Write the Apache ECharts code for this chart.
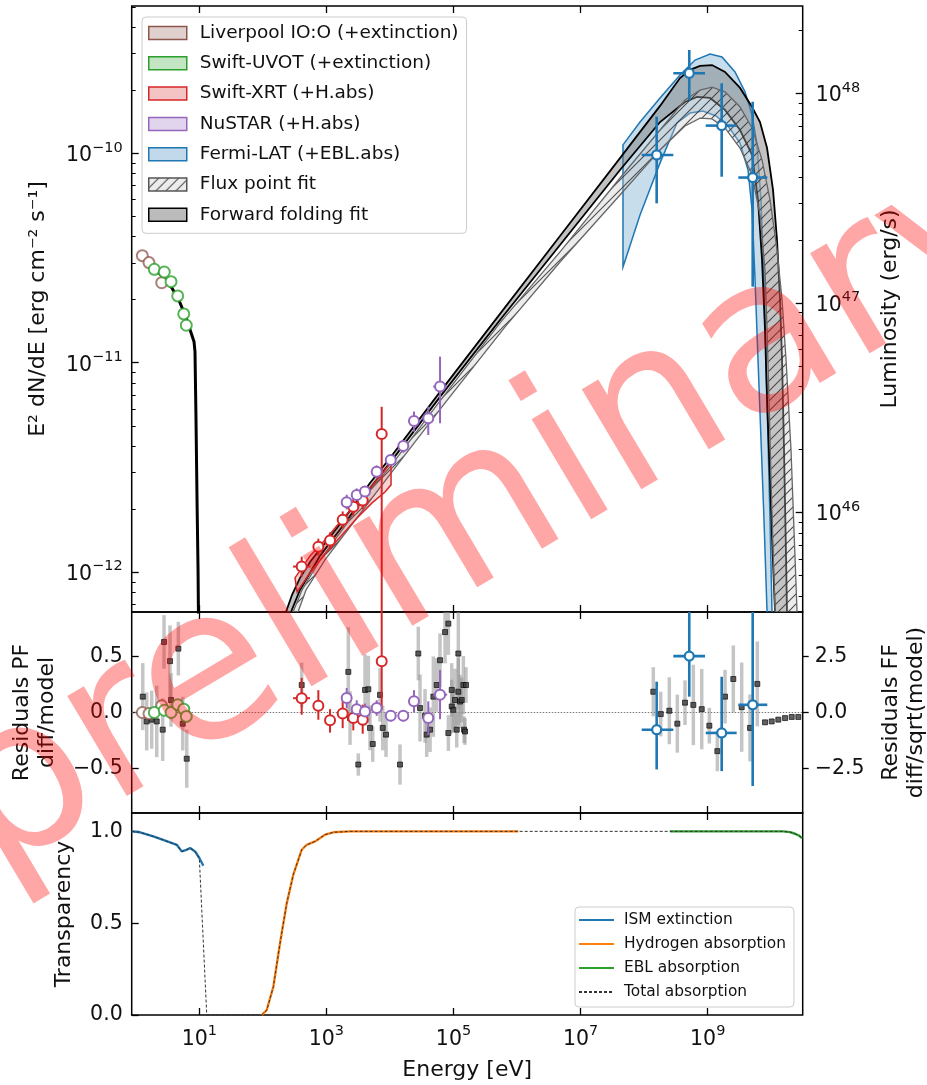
<!DOCTYPE html>
<html><head><meta charset="utf-8">
<script src="https://cdn.jsdelivr.net/npm/echarts@6/dist/echarts.min.js"></script>
<style>html,body{margin:0;padding:0;background:#fff}#c{width:927px;height:1085px}</style>
</head><body><div id="c"></div>
<script>
// ===== DATA (energies as log10(E/eV); flux as log10(E^2 dN/dE / erg cm^-2 s^-1)) =====
const xTickDecades = [1, 3, 5, 7, 9];
const fluxTickDecades = [-12, -11, -10];
const lumTickDecades = [46, 47, 48];
const pfTicks = [-0.5, 0, 0.5];
const ffTicks = [-2.5, 0, 2.5];
const transTicks = [0, 0.5, 1.0];
const X_MIN = -0.064, X_MAX = 10.495;
const F_MIN = -12.19, F_MAX = -9.297;
const L_MIN = 45.525, L_MAX = 48.418;
const PF_MIN = -0.9, PF_MAX = 0.9;
const FF_MIN = -4.5, FF_MAX = 4.5;
const T_MIN = 0, T_MAX = 1.1;

// flux points [logE, logF]
const liverpoolPts = [[0.103,-10.489],[0.208,-10.522],[0.408,-10.618]];
const uvotPts = [[0.292,-10.554],[0.449,-10.567],[0.555,-10.613],[0.660,-10.681],[0.755,-10.767],[0.795,-10.821]];
// [logE, logF, logElo, logEhi, logFlo, logFhi]
const xrtPts = [
 [2.611,-11.973,2.475,2.742,-12.021,-11.926],
 [2.873,-11.878,2.79,2.95,-11.92,-11.84],
 [3.057,-11.849,2.98,3.13,-11.89,-11.81],
 [3.256,-11.750,3.18,3.33,-11.79,-11.71],
 [3.423,-11.687,3.35,3.50,-11.73,-11.64],
 [3.571,-11.658,3.50,3.65,-11.70,-11.62],
 [3.870,-11.340,3.82,3.92,-13.0,-11.210]
];
const nustarPts = [
 [3.319,-11.666,3.26,3.38,-11.70,-11.63],
 [3.477,-11.631,3.42,3.54,-11.66,-11.60],
 [3.607,-11.615,3.55,3.67,-11.64,-11.59],
 [3.791,-11.520,3.73,3.85,-11.55,-11.49],
 [4.012,-11.464,3.95,4.08,-11.49,-11.44],
 [4.210,-11.397,4.14,4.28,-11.43,-11.37],
 [4.378,-11.278,4.30,4.46,-11.329,-11.233],
 [4.603,-11.265,4.52,4.69,-11.345,-11.210],
 [4.788,-11.114,4.68,4.90,-11.289,-10.971]
];
const fermiPts = [
 [8.197,-10.008,7.961,8.459,-10.239,-9.825],
 [8.710,-9.618,8.459,8.958,-9.746,-9.507],
 [9.220,-9.868,8.969,9.456,-10.112,-9.666],
 [9.708,-10.116,9.482,9.938,-10.637,-9.754]
];
// model curves / bands [logE, logF]
const opticalModel = [[0.083,-10.481],[0.224,-10.524],[0.382,-10.576],[0.539,-10.629],[0.665,-10.691],[0.775,-10.772],[0.854,-10.843],[0.917,-10.900],[0.932,-10.948],[0.948,-11.273],[0.964,-11.655],[0.980,-11.989],[0.987,-12.228]];
const ffUpper = [[2.30,-12.26],[2.364,-12.190],[2.459,-12.108],[2.585,-12.027],[2.742,-11.951],[2.900,-11.889],[3.057,-11.832],[3.262,-11.750],[3.450,-11.674],[3.686,-11.574],[4.001,-11.455],[4.788,-11.139],[5.732,-10.767],[6.676,-10.395],[7.620,-10.023],[8.250,-9.774],[8.564,-9.641],[8.722,-9.602],[8.879,-9.583],[9.068,-9.579],[9.272,-9.612],[9.509,-9.688],[9.698,-9.779],[9.823,-9.851],[9.934,-9.975],[10.028,-10.175],[10.091,-10.414],[10.138,-10.700],[10.170,-10.987],[10.201,-11.416],[10.225,-11.798],[10.248,-12.190],[10.264,-12.37]];
const ffLower = [[2.41,-12.26],[2.443,-12.190],[2.585,-12.085],[2.900,-11.922],[3.293,-11.765],[3.450,-11.700],[3.686,-11.600],[4.001,-11.478],[4.788,-11.163],[5.732,-10.796],[6.676,-10.438],[7.620,-10.080],[8.250,-9.851],[8.643,-9.755],[8.832,-9.731],[9.037,-9.736],[9.272,-9.793],[9.509,-9.889],[9.698,-10.008],[9.792,-10.223],[9.855,-10.509],[9.902,-10.843],[9.934,-11.178],[9.981,-11.559],[10.020,-11.894],[10.060,-12.190],[10.075,-12.37]];
const fpUpper = [[2.43,-12.26],[2.475,-12.190],[2.616,-12.085],[2.900,-11.941],[3.293,-11.779],[3.450,-11.710],[3.686,-11.610],[4.001,-11.497],[4.788,-11.182],[5.732,-10.810],[6.676,-10.471],[7.620,-10.118],[8.250,-9.889],[8.643,-9.746],[8.879,-9.698],[9.068,-9.684],[9.272,-9.707],[9.509,-9.779],[9.698,-9.879],[9.855,-10.032],[9.981,-10.223],[10.091,-10.462],[10.170,-10.700],[10.233,-10.987],[10.311,-11.416],[10.358,-11.798],[10.406,-12.190],[10.42,-12.37]];
const fpLower = [[2.50,-12.26],[2.553,-12.190],[2.679,-12.085],[2.978,-11.941],[3.372,-11.784],[4.080,-11.502],[4.867,-11.192],[5.811,-10.829],[6.676,-10.519],[7.620,-10.199],[8.250,-9.984],[8.643,-9.870],[8.879,-9.832],[9.068,-9.836],[9.272,-9.879],[9.509,-9.975],[9.698,-10.104],[9.823,-10.295],[9.902,-10.557],[9.934,-10.843],[9.965,-11.178],[9.997,-11.559],[10.028,-11.894],[10.060,-12.190],[10.075,-12.37]];
const fermiBandUpper = [[7.667,-9.960],[7.935,-9.851],[8.250,-9.736],[8.564,-9.626],[8.801,-9.555],[9.037,-9.526],[9.225,-9.540],[9.430,-9.612],[9.587,-9.707],[9.698,-9.817],[9.776,-9.960],[9.839,-10.223],[9.886,-10.605],[9.918,-10.987],[9.949,-11.369],[9.981,-11.750],[10.012,-12.190],[10.028,-12.37]];
const fermiBandLower = [[7.667,-10.543],[7.935,-10.295],[8.250,-10.046],[8.517,-9.855],[8.722,-9.808],[8.926,-9.798],[9.131,-9.822],[9.320,-9.870],[9.509,-9.951],[9.635,-10.080],[9.698,-10.271],[9.745,-10.605],[9.792,-10.987],[9.839,-11.369],[9.886,-11.750],[9.934,-12.190],[9.949,-12.37]];
const xrtBandUpper = [[2.506,-12.027],[2.742,-11.922],[2.978,-11.846],[3.214,-11.760],[3.450,-11.679],[3.686,-11.598],[3.922,-11.512],[4.017,-11.474]];
const xrtBandLower = [[2.538,-12.094],[2.774,-11.989],[3.010,-11.903],[3.246,-11.822],[3.482,-11.741],[3.718,-11.669],[3.922,-11.617],[4.017,-11.583]];

// residuals PF (diff/model): [logE, res, err]
const liverpoolRes = [[0.103,0.0,0.05],[0.208,-0.01,0.05],[0.408,0.06,0.05]];
const uvotRes = [[0.292,0.0,0.04],[0.449,0.02,0.04],[0.555,0.0,0.04],[0.660,0.07,0.04],[0.755,0.03,0.04],[0.795,-0.035,0.04]];
// [logE, res, logElo, logEhi, resLo, resHi]
const xrtRes = [
 [2.611,0.128,2.475,2.742,-0.02,0.31],
 [2.873,0.06,2.79,2.95,-0.065,0.20],
 [3.057,-0.07,2.98,3.13,-0.18,0.03],
 [3.256,-0.01,3.18,3.33,-0.14,0.12],
 [3.423,-0.05,3.35,3.50,-0.16,0.06],
 [3.571,-0.065,3.50,3.65,-0.19,0.07],
 [3.870,0.46,3.82,3.92,0.025,1.3]
];
const nustarRes = [
 [3.319,0.13,3.26,3.38,0.04,0.22],
 [3.477,0.03,3.42,3.54,-0.05,0.11],
 [3.607,0.01,3.55,3.67,-0.06,0.08],
 [3.791,0.04,3.73,3.85,-0.03,0.11],
 [4.012,-0.03,3.95,4.08,-0.08,0.02],
 [4.210,-0.03,4.14,4.28,-0.08,0.02],
 [4.378,0.10,4.30,4.46,0.0,0.20],
 [4.603,-0.05,4.52,4.69,-0.20,0.10],
 [4.788,0.16,4.68,4.90,-0.06,0.38]
];
const fermiRes = [
 [8.197,-0.154,7.961,8.459,-0.51,0.276],
 [8.710,0.505,8.459,8.958,0.142,1.3],
 [9.220,-0.183,8.969,9.456,-0.525,0.32],
 [9.708,0.069,9.482,9.938,-0.658,1.3]
];
// residuals FF (diff/sqrt(model)): [logE, res, err]
const ffResiduals = [
 [0.110,0.71,1.5],[0.172,-0.40,1.3],[0.251,-0.32,1.3],[0.330,-0.40,1.6],[0.424,-0.77,1.4],[0.445,3.16,1.2],[0.539,2.30,1.6],[0.555,0.56,1.2],[0.670,2.86,1.2],[0.739,-0.50,1.2],[0.802,-2.07,1.3],
 [2.611,1.23,1.0],[3.345,1.82,2.0],[3.372,-0.25,1.2],[3.502,-2.33,0.5],[3.608,1.01,1.6],[3.660,1.04,1.5],[3.686,-0.69,1.0],[3.729,-1.41,0.8],[3.844,0.79,1.2],[3.886,-0.69,1.0],[3.938,-0.99,1.0],[4.158,-2.33,0.9],[4.446,2.64,1.2],[4.473,0.20,1.5],[4.552,-0.15,1.2],[4.578,-0.99,1.0],[4.631,-0.77,1.0],[4.683,0.71,1.8],[4.736,1.23,1.2],[4.788,2.34,1.2],[4.867,3.60,1.4],[4.919,3.98,1.4],[4.919,-0.92,0.8],[4.972,1.01,1.2],[4.972,0.27,1.2],[4.997,0.12,1.0],[5.024,0.56,1.4],[5.051,-0.77,0.8],[5.076,2.64,2.5],[5.076,0.93,1.5],[5.103,0.49,1.2],[5.129,0.56,1.0],[5.155,1.23,1.3],[5.166,-0.77,0.6],[5.181,-0.85,0.6],[5.197,1.23,0.8],
 [8.144,0.93,1.1],[8.261,-0.07,1.0],[8.396,0.08,1.5],[8.522,-0.50,1.3],[8.643,0.44,1.0],[8.774,0.34,1.8],[8.906,0.15,1.8],[9.026,-0.59,0.8],[9.152,-1.73,0.9],[9.273,0.71,1.2],[9.403,1.50,1.5],[9.535,0.24,2.0],[9.666,-0.69,1.5],[9.781,1.28,1.9],
 [9.902,-0.44,0],[10.007,-0.40,0],[10.111,-0.32,0],[10.217,-0.25,0],[10.322,-0.20,0],[10.426,-0.20,0]
];
// transparency [logE, T]
const ismExt = [[-0.064,1.0],[0.067,0.995],[0.276,0.973],[0.539,0.940],[0.645,0.927],[0.723,0.891],[0.775,0.896],[0.854,0.909],[0.933,0.891],[1.0,0.855],[1.063,0.813]];
const hAbs = [[1.982,0.0],[2.061,0.027],[2.165,0.154],[2.270,0.391],[2.376,0.609],[2.479,0.764],[2.612,0.90],[2.690,0.927],[2.821,0.945],[2.978,0.982],[3.109,0.995],[3.372,1.0],[6.020,1.0]];
const eblAbs = [[8.407,1.0],[10.185,1.0],[10.296,0.996],[10.374,0.987],[10.437,0.977],[10.484,0.963]];
const totalAbs = [[-0.064,1.0],[0.067,0.995],[0.276,0.973],[0.539,0.940],[0.645,0.927],[0.723,0.891],[0.775,0.896],[0.854,0.909],[0.933,0.891],[1.0,0.855],[1.117,0.0],[1.982,0.0],[2.061,0.027],[2.165,0.154],[2.270,0.391],[2.376,0.609],[2.479,0.764],[2.612,0.90],[2.690,0.927],[2.821,0.945],[2.978,0.982],[3.109,0.995],[3.372,1.0],[10.185,1.0],[10.296,0.996],[10.374,0.987],[10.437,0.977],[10.484,0.963]];

// ===== STYLE / HELPERS =====
const FONT = 'DejaVu Sans';
const TICK_FS = 20.5, LEG_FS = 18.5, LABEL_FS = 22, TXT = '#111';
const C = {brown:'#8c564b', green:'#2ca02c', red:'#d62728', purple:'#9467bd', blue:'#1f77b4', orange:'#ff7f0e'};
const pow10 = v => '{b|10}{s|' + String(Math.round(v)).replace('-', '\u2212') + '}';
const powRich = {
  b: {fontSize: TICK_FS, fontFamily: FONT, color: TXT, lineHeight: 26, verticalAlign: 'bottom'},
  s: {fontSize: 14.5, fontFamily: FONT, color: TXT, lineHeight: 15, verticalAlign: 'top'}
};
const dec1 = v => v.toFixed(1).replace('-', '\u2212');
function minorTicks(lo, hi) {
  const out = [];
  for (let n = Math.floor(lo) - 1; n <= Math.ceil(hi); n++)
    for (let k = 2; k <= 9; k++) { const v = n + Math.log10(k); if (v > lo && v < hi) out.push(v); }
  return out;
}
function hatchCanvas() {
  const c = document.createElement('canvas'); c.width = 10; c.height = 10;
  const g = c.getContext('2d');
  g.fillStyle = 'rgba(200,200,200,0.35)'; g.fillRect(0, 0, 10, 10);
  g.strokeStyle = 'rgba(50,50,50,0.85)'; g.lineWidth = 1.1;
  g.beginPath(); g.moveTo(0, 10); g.lineTo(10, 0); g.moveTo(-5, 5); g.lineTo(5, -5); g.moveTo(5, 15); g.lineTo(15, 5); g.stroke();
  return c;
}
const hatch = {image: hatchCanvas(), repeat: 'repeat'};

function bandSeries(name, upper, lower, st, z) {
  const pts = upper.concat(lower.slice().reverse());
  return {
    type: 'custom', name, xAxisIndex: 0, yAxisIndex: 0, clip: true, z, silent: true,
    data: pts,
    renderItem(params, api) {
      if (params.dataIndex !== 0) return null;
      const ch = [];
      ch.push({type: 'polygon', shape: {points: pts.map(p => api.coord(p))},
        style: {fill: st.fill, stroke: st.polyStroke || null, lineWidth: st.polyWidth || 0}});
      if (st.edge) {
        ch.push({type: 'polyline', shape: {points: upper.map(p => api.coord(p))}, style: {stroke: st.edge, lineWidth: st.edgeWidth, fill: null}});
        ch.push({type: 'polyline', shape: {points: lower.map(p => api.coord(p))}, style: {stroke: st.edge, lineWidth: st.edgeWidth, fill: null}});
      }
      return {type: 'group', children: ch};
    }
  };
}
function errSeries(name, data, color, width, xi, yi, z) {
  return {
    type: 'custom', name, xAxisIndex: xi, yAxisIndex: yi, clip: true, z, silent: true,
    data,
    renderItem(params, api) {
      const x = api.value(0), y = api.value(1);
      const a = api.coord([api.value(2), y]), b = api.coord([api.value(3), y]);
      const c = api.coord([x, api.value(4)]), d = api.coord([x, api.value(5)]);
      return {type: 'group', children: [
        {type: 'line', shape: {x1: a[0], y1: a[1], x2: b[0], y2: b[1]}, style: {stroke: color, lineWidth: width}},
        {type: 'line', shape: {x1: c[0], y1: c[1], x2: d[0], y2: d[1]}, style: {stroke: color, lineWidth: width}}
      ]};
    }
  };
}
function ptSeries(name, data, color, xi, yi, z, size, bw) {
  return {type: 'scatter', name, xAxisIndex: xi, yAxisIndex: yi, z, silent: true,
    data: data.map(d => [d[0], d[1]]), symbol: 'circle', symbolSize: size || 10,
    itemStyle: {color: '#fff', borderColor: color, borderWidth: bw || 2, opacity: 1}};
}
const tickStyle = {color: '#000', width: 1.3};
function xAxisDef(gridIndex, position, withLabels) {
  return {
    type: 'value', gridIndex, position, min: X_MIN, max: X_MAX,
    axisLine: {show: false, onZero: false}, splitLine: {show: false},
    axisTick: {show: true, inside: true, length: 7, customValues: xTickDecades, lineStyle: tickStyle},
    axisLabel: withLabels ? {show: true, customValues: xTickDecades, formatter: pow10, rich: powRich, margin: 9} : {show: false},
    name: withLabels ? 'Energy [eV]' : '', nameLocation: 'middle', nameGap: 44,
    nameTextStyle: {fontSize: LABEL_FS, fontFamily: FONT, color: TXT}
  };
}
function yAxisDef(o) {
  return {
    type: 'value', gridIndex: o.grid, position: o.pos, min: o.min, max: o.max,
    axisLine: {show: false, onZero: false}, splitLine: {show: false},
    axisTick: {show: true, inside: o.inside !== false, length: o.len || 7, customValues: o.ticks, lineStyle: {color: '#000', width: o.tw || 1.3}},
    axisLabel: o.fmt ? {show: true, customValues: o.ticks, formatter: o.fmt, rich: powRich, fontSize: TICK_FS, fontFamily: FONT, color: TXT, margin: o.margin || 8} : {show: false},
    name: o.name || '', nameLocation: 'middle', nameGap: o.gap || 50,
    nameTextStyle: {fontSize: LABEL_FS, fontFamily: FONT, color: TXT, lineHeight: 25}
  };
}

const N = {liv: 'Liverpool IO:O (+extinction)', uvot: 'Swift-UVOT (+extinction)', xrt: 'Swift-XRT (+H.abs)', nu: 'NuSTAR (+H.abs)', fermi: 'Fermi-LAT (+EBL.abs)', fp: 'Flux point fit', ff: 'Forward folding fit'};

const lineS = (name, data, color, width, z, dash) => ({
  type: 'line', name, xAxisIndex: 4, yAxisIndex: 6, data, symbol: 'none', z, silent: true,
  itemStyle: {color}, lineStyle: {color, width, type: dash || 'solid'}
});

const series = [
  // ---- top panel ----
  bandSeries(N.fermi, fermiBandUpper, fermiBandLower, {fill: 'rgba(31,119,180,0.25)', polyStroke: C.blue, polyWidth: 1.5}, 2),
  bandSeries(N.ff, ffUpper, ffLower, {fill: 'rgba(120,120,120,0.45)', edge: '#000', edgeWidth: 1.8}, 3),
  bandSeries(N.fp, fpUpper, fpLower, {fill: hatch, edge: '#666', edgeWidth: 1.3}, 4),
  bandSeries(N.xrt, xrtBandUpper, xrtBandLower, {fill: 'rgba(214,39,40,0.2)', polyStroke: C.red, polyWidth: 1.5}, 4),
  {type: 'line', name: N.ff, xAxisIndex: 0, yAxisIndex: 0, data: opticalModel, showSymbol: false, symbol: 'none', z: 5, silent: true,
   lineStyle: {color: '#000', width: 3}},
  errSeries(N.xrt, xrtPts, C.red, 2, 0, 0, 6),
  errSeries(N.nu, nustarPts, C.purple, 2, 0, 0, 6),
  errSeries(N.fermi, fermiPts, C.blue, 2.6, 0, 0, 6),
  ptSeries(N.liv, liverpoolPts, 'rgba(140,86,75,0.75)', 0, 0, 7, 11, 2),
  ptSeries(N.uvot, uvotPts, 'rgba(44,160,44,0.8)', 0, 0, 7, 11, 2),
  ptSeries(N.xrt, xrtPts, C.red, 0, 0, 7, 10, 2),
  ptSeries(N.nu, nustarPts, C.purple, 0, 0, 7, 10, 2),
  ptSeries(N.fermi, fermiPts, C.blue, 0, 0, 7, 9, 2.2),
  // ---- residual panel ----
  {type: 'line', name: 'zero', xAxisIndex: 2, yAxisIndex: 4, data: [[X_MIN, 0], [X_MAX, 0]], symbol: 'none', z: 1, silent: true,
   lineStyle: {color: '#777', width: 1, type: [1.5, 1.5]}},
  errSeries('ff-res-err', ffResiduals.map(d => [d[0], d[1], d[0], d[0], d[1] - d[2], d[1] + d[2]]), 'rgba(150,150,150,0.55)', 3.5, 2, 5, 2),
  {type: 'scatter', name: 'ff-res', xAxisIndex: 2, yAxisIndex: 5, z: 3, silent: true,
   data: ffResiduals.map(d => [d[0], d[1]]), symbol: 'rect', symbolSize: 5,
   itemStyle: {color: '#3a3a3a', borderColor: '#000', borderWidth: 0.8}},
  errSeries('liv-res-err', liverpoolRes.map(d => [d[0], d[1], d[0], d[0], d[1] - d[2], d[1] + d[2]]), 'rgba(140,86,75,0.75)', 2, 2, 4, 4),
  errSeries('uvot-res-err', uvotRes.map(d => [d[0], d[1], d[0], d[0], d[1] - d[2], d[1] + d[2]]), 'rgba(44,160,44,0.8)', 2, 2, 4, 4),
  errSeries('xrt-res-err', xrtRes, C.red, 2, 2, 4, 4),
  errSeries('nu-res-err', nustarRes, C.purple, 2, 2, 4, 4),
  errSeries('fermi-res-err', fermiRes, C.blue, 2.6, 2, 4, 4),
  ptSeries('liv-res', liverpoolRes, 'rgba(140,86,75,0.75)', 2, 4, 5, 11, 2),
  ptSeries('uvot-res', uvotRes, 'rgba(44,160,44,0.8)', 2, 4, 5, 11, 2),
  ptSeries('xrt-res', xrtRes, C.red, 2, 4, 5, 10, 2),
  ptSeries('nu-res', nustarRes, C.purple, 2, 4, 5, 10, 2),
  ptSeries('fermi-res', fermiRes, C.blue, 2, 4, 5, 9, 2.2),
  // ---- transparency panel ----
  lineS('ISM extinction', ismExt, C.blue, 2.4, 3),
  lineS('Hydrogen absorption', hAbs, C.orange, 2.4, 3),
  lineS('EBL absorption', eblAbs, C.green, 2.4, 3),
  lineS('Total absorption', totalAbs, '#333', 1, 4, [3, 2])
];

const legendTopData = [
  {name: N.liv, icon: 'rect', itemStyle: {color: 'rgba(140,86,75,0.28)', borderColor: C.brown, borderWidth: 1.5}},
  {name: N.uvot, icon: 'rect', itemStyle: {color: 'rgba(44,160,44,0.28)', borderColor: C.green, borderWidth: 1.5}},
  {name: N.xrt, icon: 'rect', itemStyle: {color: 'rgba(214,39,40,0.28)', borderColor: C.red, borderWidth: 1.5}},
  {name: N.nu, icon: 'rect', itemStyle: {color: 'rgba(148,103,189,0.28)', borderColor: C.purple, borderWidth: 1.5}},
  {name: N.fermi, icon: 'rect', itemStyle: {color: 'rgba(31,119,180,0.28)', borderColor: C.blue, borderWidth: 1.5}},
  {name: N.fp, icon: 'rect', itemStyle: {color: hatch, borderColor: '#555', borderWidth: 1.5}},
  {name: N.ff, icon: 'rect', itemStyle: {color: 'rgba(120,120,120,0.5)', borderColor: '#000', borderWidth: 1.5}}
];
const noSym = {color: 'rgba(0,0,0,0)', borderColor: 'rgba(0,0,0,0)', borderWidth: 0};
const legendBottomData = ['ISM extinction', 'Hydrogen absorption', 'EBL absorption', 'Total absorption'].map(n => ({name: n, itemStyle: noSym}));

const gridBase = {left: 131.7, width: 671, show: true, borderColor: '#000', borderWidth: 1.5, backgroundColor: 'transparent', containLabel: false, outerBoundsMode: 'none'};
const option = {
  animation: false,
  backgroundColor: '#fff',
  grid: [
    Object.assign({top: 6, height: 606}, gridBase),
    Object.assign({top: 612, height: 201}, gridBase),
    Object.assign({top: 813, height: 202}, gridBase)
  ],
  xAxis: [
    xAxisDef(0, 'bottom', false), xAxisDef(0, 'top', false),
    xAxisDef(1, 'bottom', false), xAxisDef(1, 'top', false),
    xAxisDef(2, 'bottom', true), xAxisDef(2, 'top', false)
  ],
  yAxis: [
    yAxisDef({grid: 0, pos: 'left', min: F_MIN, max: F_MAX, ticks: fluxTickDecades, fmt: pow10, name: 'E² dN/dE [erg cm⁻² s⁻¹]', gap: 81, margin: 9}),
    yAxisDef({grid: 0, pos: 'left', min: F_MIN, max: F_MAX, ticks: minorTicks(F_MIN, F_MAX), len: 4, tw: 1}),
    yAxisDef({grid: 0, pos: 'right', min: L_MIN, max: L_MAX, ticks: lumTickDecades, fmt: pow10, name: 'Luminosity (erg/s)', gap: 75, margin: 13}),
    yAxisDef({grid: 0, pos: 'right', min: L_MIN, max: L_MAX, ticks: minorTicks(L_MIN, L_MAX), len: 4, tw: 1}),
    yAxisDef({grid: 1, pos: 'left', min: PF_MIN, max: PF_MAX, ticks: pfTicks, fmt: dec1, name: 'Residuals PF\ndiff/model', gap: 72, margin: 9}),
    yAxisDef({grid: 1, pos: 'right', min: FF_MIN, max: FF_MAX, ticks: ffTicks, fmt: dec1, name: 'Residuals FF\ndiff/sqrt(model)', gap: 76, margin: 12, inside: false, len: 6}),
    yAxisDef({grid: 2, pos: 'left', min: T_MIN, max: T_MAX, ticks: transTicks, fmt: dec1, name: 'Transparency', gap: 55, margin: 9})
  ],
  legend: [
    {orient: 'vertical', left: 142, top: 17, selectedMode: false, data: legendTopData,
     itemWidth: 38, itemHeight: 13, itemGap: 11.3, padding: [6.5, 8, 9, 6],
     backgroundColor: 'rgba(255,255,255,0.8)', borderColor: '#cccccc', borderWidth: 1, borderRadius: 4,
     textStyle: {fontSize: LEG_FS, fontFamily: FONT, color: TXT, lineHeight: 19, padding: [0, 0, 0, 8]}},
    {orient: 'vertical', left: 575, top: 907, selectedMode: false, data: legendBottomData,
     itemWidth: 35, itemHeight: 12, itemGap: 8, padding: [5, 8, 7, 3],
     backgroundColor: 'rgba(255,255,255,0.8)', borderColor: '#cccccc', borderWidth: 1, borderRadius: 4,
     textStyle: {fontSize: 15.4, fontFamily: FONT, color: TXT, lineHeight: 16, padding: [0, 0, 0, 5]}}
  ],
  graphic: [
    {type: 'text', x: 487, y: 517, rotation: 30.8 * Math.PI / 180, z: 100, silent: true,
     style: {text: 'preliminary', fontSize: 213, fontFamily: FONT, fill: 'rgba(255,0,0,0.35)', align: 'center', verticalAlign: 'middle'}}
  ],
  series
};

const chart = echarts.init(document.getElementById('c'), null, {renderer: 'canvas'});
chart.setOption(option);
</script>
</body></html>
